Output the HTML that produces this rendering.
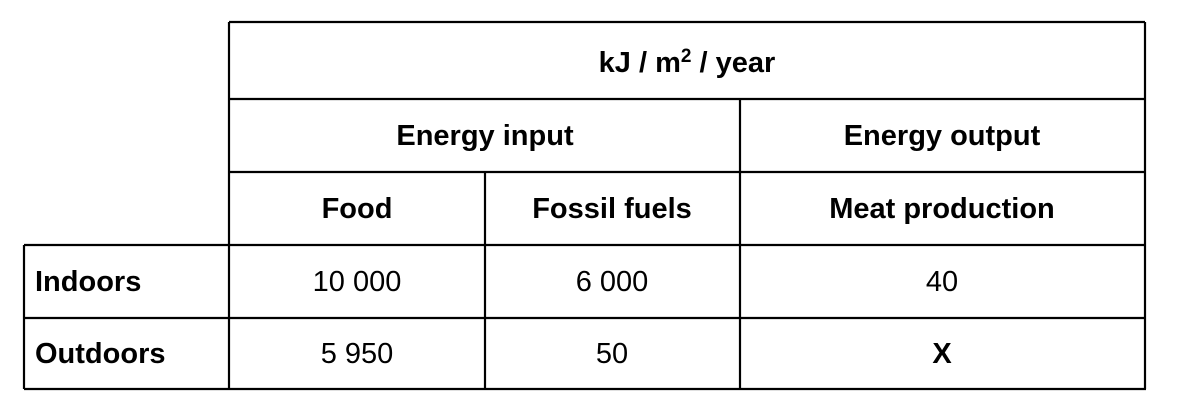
<!DOCTYPE html>
<html><head><meta charset="utf-8"><style>
html,body{margin:0;padding:0;background:#fff;}
svg{display:block;font-family:"Liberation Sans",Arial,sans-serif;font-size:29px;}
.b{font-weight:bold;}
</style></head><body>
<svg width="1180" height="414" viewBox="0 0 1180 414">
<g stroke="#000" stroke-width="2.2">
<line x1="229" y1="22" x2="1145" y2="22"/>
<line x1="229" y1="99" x2="1145" y2="99"/>
<line x1="229" y1="172" x2="1145" y2="172"/>
<line x1="24" y1="245" x2="1145" y2="245"/>
<line x1="24" y1="318" x2="1145" y2="318"/>
<line x1="24" y1="389" x2="1146" y2="389"/>
<line x1="24" y1="245" x2="24" y2="389"/>
<line x1="229" y1="22" x2="229" y2="389"/>
<line x1="485" y1="172" x2="485" y2="389"/>
<line x1="740" y1="99" x2="740" y2="389"/>
<line x1="1145" y1="22" x2="1145" y2="389"/>
</g>
<g text-anchor="middle">
<text class="b" x="687" y="72">kJ / m<tspan font-size="19" dy="-10">2</tspan><tspan dy="10"> / year</tspan></text>
<text class="b" x="485" y="145">Energy input</text>
<text class="b" x="942" y="145">Energy output</text>
<text class="b" x="357" y="218">Food</text>
<text class="b" x="612" y="218">Fossil fuels</text>
<text class="b" x="942" y="218">Meat production</text>
<text x="357" y="291">10 000</text>
<text x="612" y="291">6 000</text>
<text x="942" y="291">40</text>
<text x="357" y="363">5 950</text>
<text x="612" y="363">50</text>
<text class="b" x="942" y="363">X</text>
</g>
<text class="b" x="35" y="291">Indoors</text>
<text class="b" x="35" y="363">Outdoors</text>
</svg>
</body></html>
